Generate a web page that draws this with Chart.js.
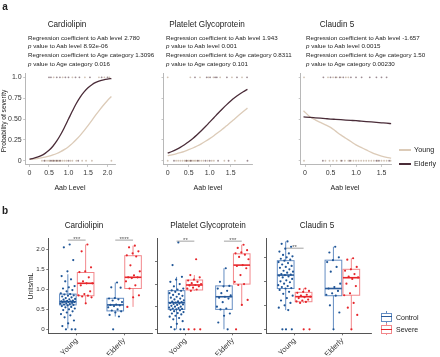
<!DOCTYPE html>
<html><head><meta charset="utf-8">
<script src="https://cdn.jsdelivr.net/npm/chart.js@4.4.1/dist/chart.umd.min.js"></script>
<style>
html,body{margin:0;padding:0;background:#fff;}
body{width:440px;height:357px;position:relative;overflow:hidden;font-family:"Liberation Sans",Arial,Helvetica,sans-serif;color:#222;}
canvas{position:absolute;left:0;top:0;}
.t{position:absolute;white-space:nowrap;line-height:1;}
.lg{position:absolute;}
</style></head>
<body>
<canvas id="a1" width="440" height="357"></canvas>
<canvas id="a2" width="440" height="357"></canvas>
<canvas id="a3" width="440" height="357"></canvas>
<canvas id="b1" width="440" height="357"></canvas>
<canvas id="b2" width="440" height="357"></canvas>
<canvas id="b3" width="440" height="357"></canvas>
<script>
// ================= DATA : panel a =================
const A_TITLES = ['Cardiolipin', 'Platelet Glycoprotein', 'Claudin 5'];
const A_XTITLES = ['Aab Level', 'Aab level', 'Aab level'];
const A_COEF_AAB = ['2.780', '1.943', '-1.657'];
const A_P_AAB = ['8.92e-06', '0.001', '0.0015'];
const A_COEF_AGE = ['1.3096', '0.8311', '1.50'];
const A_P_AGE = ['0.016', '0.101', '0.00230'];
const A_XTICKS = [[0, 0.5, 1, 1.5, 2], [0, 0.5, 1, 1.5], [0, 0.5, 1, 1.5]];
const A_XLABELS = [['0', '0.5', '1.0', '1.5', '2.0'], ['0', '0.5', '1.0', '1.5'], ['0', '0.5', '1.0', '1.5']];
const A_YTICKS = [0, 0.25, 0.5, 0.75, 1];
const A_YLABELS = ['0', '0.25', '0.50', '0.75', '1.0'];
const AGE_GROUPS = ['Young', 'Elderly'];

const CARD_X = [0, 0.1, 0.2, 0.3, 0.4, 0.5, 0.6, 0.7, 0.8, 0.9, 1.0, 1.1, 1.2, 1.3, 1.4, 1.5, 1.6, 1.7, 1.8, 1.9, 2.0, 2.1];
const CARD_YOUNG = [0.016, 0.020, 0.026, 0.033, 0.042, 0.054, 0.069, 0.087, 0.109, 0.136, 0.169, 0.208, 0.254, 0.305, 0.361, 0.422, 0.485, 0.549, 0.611, 0.669, 0.723, 0.771];
const CARD_ELDERLY = [0.020, 0.029, 0.042, 0.061, 0.088, 0.125, 0.174, 0.237, 0.314, 0.404, 0.500, 0.596, 0.686, 0.763, 0.826, 0.875, 0.912, 0.939, 0.958, 0.971, 0.980, 0.986];

const PLT_X = [0, 0.1, 0.2, 0.3, 0.4, 0.5, 0.6, 0.7, 0.8, 0.9, 1.0, 1.1, 1.2, 1.3, 1.4, 1.5, 1.6, 1.7, 1.8, 1.9];
const PLT_YOUNG = [0.060, 0.071, 0.083, 0.097, 0.113, 0.132, 0.153, 0.177, 0.203, 0.233, 0.265, 0.300, 0.338, 0.377, 0.419, 0.461, 0.505, 0.548, 0.590, 0.631];
const PLT_ELDERLY = [0.091, 0.111, 0.134, 0.160, 0.192, 0.227, 0.267, 0.311, 0.359, 0.410, 0.463, 0.516, 0.570, 0.621, 0.670, 0.716, 0.758, 0.795, 0.828, 0.856];

const CLD_X = [-0.03, 0.1, 0.2, 0.3, 0.4, 0.5, 0.6, 0.7, 0.8, 0.9, 1.0, 1.1, 1.2, 1.3, 1.4, 1.5, 1.6, 1.69];
const CLD_YOUNG = [0.60, 0.525, 0.49, 0.46, 0.43, 0.40, 0.355, 0.31, 0.27, 0.23, 0.19, 0.16, 0.13, 0.10, 0.075, 0.056, 0.04, 0.03];
const CLD_ELDERLY = [0.525, 0.52, 0.515, 0.51, 0.505, 0.50, 0.496, 0.492, 0.488, 0.484, 0.48, 0.475, 0.47, 0.465, 0.46, 0.455, 0.45, 0.445];

// rug observations (x = Aab level), severe at 1, non-severe at 0
const CARD_SEV_YOUNG_X = [0.62, 0.85, 1.1, 1.42, 1.78, 1.92, 2.05];
const CARD_SEV_ELD_X = [0.5, 0.55, 0.7, 0.78, 0.92, 1.0, 1.18, 1.28, 1.55, 1.85, 2.0];
const CARD_NON_YOUNG_X = [0.32, 0.4, 0.45, 0.5, 0.52, 0.58, 0.6, 0.65, 0.68, 0.72, 0.75, 0.8, 0.85, 0.9, 0.95, 1.05, 1.1, 1.2, 1.35, 1.45, 1.6, 2.1];
const CARD_NON_ELD_X = [0.38, 0.55, 0.62, 0.7, 0.78, 1.0, 1.25];
const PLT_SEV_YOUNG_X = [0, 0.54, 0.77, 0.97, 1.09, 1.25, 1.53, 1.77];
const PLT_SEV_ELD_X = [0.65, 0.93, 1.01, 1.13, 1.17, 1.41, 1.65, 1.89];
const PLT_NON_YOUNG_X = [0, 0.2, 0.25, 0.3, 0.35, 0.4, 0.43, 0.46, 0.5, 0.53, 0.56, 0.6, 0.63, 0.66, 0.7, 0.75, 0.8, 0.85, 0.95, 1.05, 1.1, 1.35, 1.6];
const PLT_NON_ELD_X = [0.15, 0.45, 0.55, 0.72, 0.9, 1.0, 1.2, 1.45, 1.9];
const CLD_SEV_YOUNG_X = [-0.02, 0.45, 0.55, 0.62, 0.7, 0.8, 0.85];
const CLD_SEV_ELD_X = [0.36, 0.5, 0.6, 0.68, 0.75, 0.9, 1.0, 1.11, 1.27, 1.4, 1.5, 1.6];
const CLD_NON_YOUNG_X = [-0.02, 0.4, 0.48, 0.55, 0.62, 0.7, 0.78, 0.85, 0.9, 0.95, 1.0, 1.05, 1.1, 1.15, 1.2, 1.25, 1.3, 1.35, 1.42, 1.5, 1.55, 1.6, 1.68];
const CLD_NON_ELD_X = [0.35, 0.72, 0.88, 1.4, 1.45, 1.65];

// ================= DATA : panel b =================
const B_TITLES = ['Cardiolipin', 'Platelet Glycoprotein', 'Claudin 5'];
const B_CATS = ['Young', 'Elderly'];
const B_GROUPS = ['Control', 'Severe'];
const B_YTICKS = [0, 0.5, 1, 1.5, 2];
const B_YLABELS = ['0', '0.5', '1.0', '1.5', '2.0'];
// box stats: [lower whisker, Q1, median, Q3, upper whisker]
const CARD_CTRL_YOUNG_BOX = [0.02, 0.61, 0.69, 0.88, 1.375];
const CARD_SEV_YOUNG_BOX = [0.65, 0.84, 1.15, 1.42, 2.12];
const CARD_CTRL_ELD_BOX = [0.32, 0.46, 0.61, 0.775, 1.17];
const CARD_SEV_ELD_BOX = [0.56, 1.02, 1.30, 1.84, 2.09];
const PLT_CTRL_YOUNG_BOX = [0, 0.44, 0.59, 0.855, 1.16];
const PLT_SEV_YOUNG_BOX = [0.85, 0.87, 0.98, 1.09, 1.2];
const PLT_CTRL_ELD_BOX = [0, 0.44, 0.72, 0.96, 1.35];
const PLT_SEV_ELD_BOX = [0.54, 1.0, 1.42, 1.67, 1.87];
const CLD_CTRL_YOUNG_BOX = [0.40, 0.85, 1.13, 1.43, 1.83];
const CLD_SEV_YOUNG_BOX = [0.55, 0.575, 0.68, 0.77, 0.85];
const CLD_CTRL_ELD_BOX = [0, 0.70, 0.85, 1.44, 1.72];
const CLD_SEV_ELD_BOX = [0, 0.71, 1.075, 1.25, 1.48];
// individual observations (Units/mL)
const CARD_CTRL_YOUNG = [2.12, 2.05, 1.73, 1.45, 1.33, 1.25, 1.2, 1.08, 1.05, 1.02, 0.98, 0.95, 0.9, 0.88, 0.87, 0.85, 0.84, 0.82, 0.8, 0.78, 0.76, 0.75, 0.74, 0.72, 0.71, 0.7, 0.7, 0.69, 0.68, 0.68, 0.67, 0.66, 0.65, 0.64, 0.63, 0.62, 0.61, 0.6, 0.58, 0.56, 0.55, 0.52, 0.5, 0.48, 0.45, 0.42, 0.38, 0.35, 0.3, 0.22, 0.15, 0.08, 0, 0, 0];
const CARD_SEV_YOUNG = [2.12, 1.95, 1.55, 1.45, 1.43, 1.3, 1.2, 1.15, 1.15, 1.1, 0.95, 0.88, 0.85, 0.84, 0.82, 0.8, 0.65];
const CARD_CTRL_ELD = [1.17, 1.05, 1.04, 0.78, 0.77, 0.75, 0.72, 0.68, 0.62, 0.61, 0.6, 0.58, 0.55, 0.5, 0.47, 0.45, 0.42, 0.36, 0.32, 0];
const CARD_SEV_ELD = [2.09, 2.05, 1.95, 1.9, 1.85, 1.82, 1.6, 1.45, 1.35, 1.3, 1.3, 1.28, 1.2, 1.1, 1.02, 0.85, 0.8, 0.56];
const PLT_CTRL_YOUNG = [1.92, 1.42, 1.16, 1.1, 1.05, 1.0, 0.95, 0.9, 0.88, 0.86, 0.85, 0.83, 0.8, 0.78, 0.76, 0.74, 0.72, 0.7, 0.68, 0.66, 0.64, 0.62, 0.61, 0.6, 0.59, 0.58, 0.57, 0.56, 0.55, 0.54, 0.52, 0.5, 0.5, 0.48, 0.47, 0.46, 0.45, 0.44, 0.43, 0.42, 0.4, 0.38, 0.36, 0.35, 0.33, 0.3, 0.28, 0.25, 0.22, 0.18, 0.12, 0.05, 0, 0, 0];
const PLT_SEV_YOUNG = [1.55, 1.2, 1.15, 1.1, 1.08, 1.05, 1.02, 1.0, 0.98, 0.97, 0.95, 0.92, 0.9, 0.88, 0.85, 0, 0, 0];
const PLT_CTRL_ELD = [1.35, 1.05, 0.96, 0.95, 0.9, 0.85, 0.8, 0.75, 0.72, 0.7, 0.68, 0.6, 0.5, 0.46, 0.44, 0.35, 0.3, 0.15, 0];
const PLT_SEV_ELD = [1.87, 1.8, 1.75, 1.7, 1.68, 1.65, 1.6, 1.55, 1.42, 1.4, 1.35, 1.2, 1.05, 1.0, 0.98, 0.65, 0.54, 0];
const CLD_CTRL_YOUNG = [1.83, 1.78, 1.72, 1.68, 1.62, 1.58, 1.55, 1.52, 1.5, 1.47, 1.45, 1.43, 1.4, 1.38, 1.35, 1.32, 1.3, 1.28, 1.25, 1.22, 1.2, 1.18, 1.15, 1.14, 1.13, 1.12, 1.1, 1.08, 1.05, 1.02, 1.0, 0.98, 0.95, 0.92, 0.9, 0.88, 0.86, 0.85, 0.82, 0.78, 0.74, 0.7, 0.65, 0.6, 0.55, 0.5, 0.45, 0.4, 0, 0, 0];
const CLD_SEV_YOUNG = [0.85, 0.84, 0.8, 0.78, 0.76, 0.72, 0.7, 0.68, 0.67, 0.65, 0.62, 0.6, 0.58, 0.57, 0.55, 0, 0];
const CLD_CTRL_ELD = [1.72, 1.6, 1.5, 1.44, 1.4, 1.3, 1.2, 0.95, 0.88, 0.85, 0.8, 0.75, 0.72, 0.7, 0.5, 0.35, 0];
const CLD_SEV_ELD = [1.48, 1.45, 1.3, 1.25, 1.22, 1.15, 1.1, 1.08, 1.05, 0.95, 0.9, 0.75, 0.71, 0.55, 0.45, 0.3, 0];
// significance labels and bar heights
const CARD_SIG = ['***', '****'];
const PLT_SIG = ['**', '***'];
const CLD_SIG = ['**', ''];
const CARD_SIG_Y = 2.23;
const PLT_SIG_Y = 1.95;
const CLD_SIG_Y = 1.69;

// ================= STYLE / LAYOUT =================
const W = 440, H = 357;
const FONT = '"Liberation Sans", Arial, sans-serif';
const ELD_COL = '#4a2c38', YNG_COL = '#dccbb8';
const CTRL_PT = '#1f5596', CTRL_BOX = 'rgba(74,122,184,0.85)', CTRL_MED = '#2a5b9b';
const SEV_PT = '#e6262b', SEV_BOX = 'rgba(240,115,120,0.85)', SEV_MED = '#e8262c';
const A_AXIS = '#b8b8b8', B_AXIS = '#555';
const CAT_POS = [1, 2], DODGE = 0.1875, BOX_W = 0.35, JIT = 0.16;

function frac(v) { return v - Math.floor(v); }
function xy(xs, ys) { return xs.map((x, i) => ({ x: x, y: ys[i] })); }
function rug(xs, level) { return xs.map(x => ({ x: x, y: level })); }
function jit(vals, center) { return vals.map((v, i) => ({ x: center + (frac((i + 1) * 0.6180339887) - 0.5) * 2 * JIT, y: v })); }

function mkScales(o) {
  return {
    x: {
      type: 'linear', min: o.xmin, max: o.xmax,
      afterBuildTicks: s => { s.ticks = o.xticks.map(v => ({ value: v })); },
      afterFit: s => { s.height = o.xh; s.paddingLeft = 0; s.paddingRight = 0; },
      ticks: { autoSkip: false, maxRotation: o.xrot || 0, minRotation: o.xrot || 0, padding: o.xpad, color: '#333',
        font: { family: FONT, size: o.xfs }, callback: (v, i) => o.xlabels[i] },
      grid: { drawOnChartArea: false, drawTicks: true, tickLength: 2, color: o.axis, lineWidth: 0.8 },
      border: { display: true, color: o.axis, width: 1 }
    },
    y: {
      type: 'linear', min: o.ymin, max: o.ymax,
      afterBuildTicks: s => { s.ticks = o.yticks.map(v => ({ value: v })); },
      afterFit: s => { s.width = o.yw; s.paddingTop = 0; s.paddingBottom = 0; },
      ticks: { autoSkip: false, padding: 1.5, color: '#333', font: { family: FONT, size: o.yfs },
        callback: (v, i) => (o.ylabels ? o.ylabels[i] : '') },
      grid: { drawOnChartArea: false, drawTicks: true, tickLength: 2, color: o.axis, lineWidth: 0.8 },
      border: { display: true, color: o.axis, width: 1 }
    }
  };
}
function pad(a, yw, xh) { return { left: a.l - yw, top: a.t, right: W - a.r, bottom: H - a.b - xh }; }

// ---------- panel a charts ----------
function aChart(id, area, xr, idx, X, Y_Y, Y_E, sy, se, ny, ne, ylabels) {
  const rugPt = (data, col) => ({ type: 'scatter', data: data, pointRadius: 0.9, pointBorderWidth: 0, backgroundColor: col, borderColor: col });
  const yw = Math.min(area.l - 1, 24), xh = 16;
  return new Chart(document.getElementById(id), {
    type: 'scatter',
    data: { datasets: [
      { type: 'line', label: AGE_GROUPS[1], data: xy(X, Y_E), borderColor: ELD_COL, borderWidth: 1.3, pointRadius: 0, cubicInterpolationMode: 'monotone', fill: false },
      { type: 'line', label: AGE_GROUPS[0], data: xy(X, Y_Y), borderColor: YNG_COL, borderWidth: 1.3, pointRadius: 0, cubicInterpolationMode: 'monotone', fill: false },
      rugPt(rug(se, 1), 'rgba(74,44,56,0.55)'),
      rugPt(rug(sy, 1), 'rgba(190,170,150,0.7)'),
      rugPt(rug(ne, 0), 'rgba(74,44,56,0.55)'),
      rugPt(rug(ny, 0), 'rgba(190,170,150,0.7)')
    ] },
    options: {
      responsive: false, animation: false, devicePixelRatio: 1,
      layout: { padding: pad(area, yw, xh) },
      plugins: { legend: { display: false }, tooltip: { enabled: false } },
      scales: mkScales({ xmin: xr[0], xmax: xr[1], xticks: A_XTICKS[idx], xlabels: A_XLABELS[idx], xpad: 2, xfs: 7, xh: xh, yw: yw,
        ymin: -0.05, ymax: 1.05, yticks: A_YTICKS, ylabels: ylabels, yfs: 7, axis: A_AXIS })
    }
  });
}
aChart('a1', { l: 25.2, r: 115.3, t: 73.2, b: 164.9 }, [-0.11, 2.2], 0, CARD_X, CARD_YOUNG, CARD_ELDERLY, CARD_SEV_YOUNG_X, CARD_SEV_ELD_X, CARD_NON_YOUNG_X, CARD_NON_ELD_X, A_YLABELS);
aChart('a2', { l: 163.5, r: 252.5, t: 73.2, b: 164.9 }, [-0.1, 2.02], 1, PLT_X, PLT_YOUNG, PLT_ELDERLY, PLT_SEV_YOUNG_X, PLT_SEV_ELD_X, PLT_NON_YOUNG_X, PLT_NON_ELD_X, null);
aChart('a3', { l: 300.7, r: 391.7, t: 73.2, b: 164.9 }, [-0.085, 1.7], 2, CLD_X, CLD_YOUNG, CLD_ELDERLY, CLD_SEV_YOUNG_X, CLD_SEV_ELD_X, CLD_NON_YOUNG_X, CLD_NON_ELD_X, null);

// ---------- panel b charts ----------
function boxPlugin(groups, sig, sigY) {
  return {
    id: 'boxes',
    beforeDatasetsDraw(chart) {
      const ctx = chart.ctx, x = chart.scales.x, y = chart.scales.y;
      const ppu = x.getPixelForValue(1) - x.getPixelForValue(0);
      const hw = BOX_W * ppu / 2;
      ctx.save();
      groups.forEach(g => {
        g.boxes.forEach((b, i) => {
          const cx = x.getPixelForValue(CAT_POS[i] + g.offset);
          const p = b.map(v => y.getPixelForValue(v));
          ctx.strokeStyle = g.stroke; ctx.lineWidth = 1;
          ctx.beginPath();
          ctx.moveTo(cx, p[0]); ctx.lineTo(cx, p[1]);
          ctx.moveTo(cx, p[3]); ctx.lineTo(cx, p[4]);
          ctx.stroke();
          ctx.strokeRect(cx - hw, p[3], 2 * hw, p[1] - p[3]);
          ctx.strokeStyle = g.med; ctx.lineWidth = 1.6;
          ctx.beginPath(); ctx.moveTo(cx - hw, p[2]); ctx.lineTo(cx + hw, p[2]); ctx.stroke();
        });
      });
      ctx.strokeStyle = '#8a8a8a'; ctx.lineWidth = 0.8;
      sig.forEach((s, i) => {
        if (!s) return;
        const yy = y.getPixelForValue(sigY);
        ctx.beginPath();
        ctx.moveTo(x.getPixelForValue(CAT_POS[i] - DODGE), yy);
        ctx.lineTo(x.getPixelForValue(CAT_POS[i] + DODGE), yy);
        ctx.stroke();
      });
      ctx.restore();
    }
  };
}
function bChart(id, area, yr, ylabels, ctrl, sev, ctrlBoxes, sevBoxes, sig, sigY) {
  const yw = 14, xh = 22;
  const ch = new Chart(document.getElementById(id), {
    type: 'scatter',
    data: { datasets: [
      { label: B_GROUPS[1], data: jit(sev[0], CAT_POS[0] + DODGE).concat(jit(sev[1], CAT_POS[1] + DODGE)), pointRadius: 1.1, pointBorderWidth: 0, backgroundColor: SEV_PT },
      { label: B_GROUPS[0], data: jit(ctrl[0], CAT_POS[0] - DODGE).concat(jit(ctrl[1], CAT_POS[1] - DODGE)), pointRadius: 1.1, pointBorderWidth: 0, backgroundColor: CTRL_PT }
    ] },
    options: {
      responsive: false, animation: false, devicePixelRatio: 1,
      layout: { padding: pad(area, yw, xh) },
      plugins: { legend: { display: false }, tooltip: { enabled: false } },
      scales: mkScales({ xmin: 0.4, xmax: 2.6, xticks: CAT_POS, xlabels: B_CATS, xpad: 1, xfs: 7.5, xrot: 45, xh: xh, yw: yw,
        ymin: yr[0], ymax: yr[1], yticks: ylabels ? B_YTICKS : [0, 0.5, 1, 1.5], ylabels: ylabels, yfs: 6.2, axis: B_AXIS })
    },
    plugins: [boxPlugin([
      { boxes: ctrlBoxes, offset: -DODGE, stroke: CTRL_BOX, med: CTRL_MED },
      { boxes: sevBoxes, offset: DODGE, stroke: SEV_BOX, med: SEV_MED }
    ], sig, sigY)]
  });
  sig.forEach((s, i) => {
    if (!s) return;
    txt(s, ch.scales.x.getPixelForValue(CAT_POS[i]), ch.scales.y.getPixelForValue(sigY) - 1.5, 6, { color: '#555' });
  });
  return ch;
}

// ---------- text helper ----------
function txt(s, x, y, size, o) {
  o = o || {};
  const d = document.createElement('div');
  d.className = 't';
  if (o.html) d.innerHTML = s; else d.textContent = s;
  d.style.left = x + 'px'; d.style.top = y + 'px'; d.style.fontSize = size + 'px';
  if (o.bold) d.style.fontWeight = 'bold';
  d.style.color = o.color || '#222';
  const ax = o.align === 'left' ? '0' : '-50%';
  d.style.transform = 'translate(' + ax + ',-50%)' + (o.rot ? ' rotate(' + o.rot + 'deg)' : '');
  document.body.appendChild(d);
  return d;
}

bChart('b1', { l: 48.3, r: 152.6, t: 238.3, b: 333.3 }, [-0.1, 2.275], B_YLABELS,
  [CARD_CTRL_YOUNG, CARD_CTRL_ELD], [CARD_SEV_YOUNG, CARD_SEV_ELD],
  [CARD_CTRL_YOUNG_BOX, CARD_CTRL_ELD_BOX], [CARD_SEV_YOUNG_BOX, CARD_SEV_ELD_BOX], CARD_SIG, CARD_SIG_Y);
bChart('b2', { l: 157, r: 261.3, t: 238.3, b: 333.3 }, [-0.0885, 2.013], null,
  [PLT_CTRL_YOUNG, PLT_CTRL_ELD], [PLT_SEV_YOUNG, PLT_SEV_ELD],
  [PLT_CTRL_YOUNG_BOX, PLT_CTRL_ELD_BOX], [PLT_SEV_YOUNG_BOX, PLT_SEV_ELD_BOX], PLT_SIG, PLT_SIG_Y);
bChart('b3', { l: 266, r: 371, t: 238.3, b: 333.3 }, [-0.083, 1.896], null,
  [CLD_CTRL_YOUNG, CLD_CTRL_ELD], [CLD_SEV_YOUNG, CLD_SEV_ELD],
  [CLD_CTRL_YOUNG_BOX, CLD_CTRL_ELD_BOX], [CLD_SEV_YOUNG_BOX, CLD_SEV_ELD_BOX], CLD_SIG, CLD_SIG_Y);

// ---------- annotations ----------
txt('a', 5, 7, 10, { bold: true });
txt('b', 5, 211, 10, { bold: true });
const A_TITLE_X = [67, 207, 337], A_TEXT_X = [28, 166, 306], A_XT_X = [70, 208, 345];
const A_LINE_Y = [37.5, 46, 55, 63.5];
A_TITLES.forEach((t, i) => {
  txt(t, A_TITLE_X[i], 25, 8.2);
  txt('Regression coefficient to Aab level ' + A_COEF_AAB[i], A_TEXT_X[i], A_LINE_Y[0], 6.2, { align: 'left' });
  txt('<i>p</i> value to Aab level ' + A_P_AAB[i], A_TEXT_X[i], A_LINE_Y[1], 6.2, { align: 'left', html: true });
  txt('Regression coefficient to Age category ' + A_COEF_AGE[i], A_TEXT_X[i], A_LINE_Y[2], 6.2, { align: 'left' });
  txt('<i>p</i> value to Age category ' + A_P_AGE[i], A_TEXT_X[i], A_LINE_Y[3], 6.2, { align: 'left', html: true });
  txt(A_XTITLES[i], A_XT_X[i], 187, 7);
});
txt('Probability of severity', 3.5, 121, 6.6, { rot: -90 });
function lgLine(x, y, w, col, th) {
  const d = document.createElement('div'); d.className = 'lg';
  d.style.left = x + 'px'; d.style.top = (y - th / 2) + 'px'; d.style.width = w + 'px'; d.style.height = th + 'px'; d.style.background = col;
  document.body.appendChild(d);
}
lgLine(399, 150, 12, YNG_COL, 1.6); txt(AGE_GROUPS[0], 414, 150, 7.2, { align: 'left' });
lgLine(399, 164, 12, ELD_COL, 1.6); txt(AGE_GROUPS[1], 414, 164, 7.2, { align: 'left' });

const B_TITLE_X = [84, 208, 317];
B_TITLES.forEach((t, i) => txt(t, B_TITLE_X[i], 225.5, 8.2));
txt('Units/mL', 31, 286, 6.8, { rot: -90 });
function lgBox(x, y, stroke, med) {
  const v = document.createElement('div'); v.className = 'lg';
  v.style.left = (x + 5) + 'px'; v.style.top = (y - 6) + 'px'; v.style.width = '0.8px'; v.style.height = '12px'; v.style.background = stroke;
  document.body.appendChild(v);
  const b = document.createElement('div'); b.className = 'lg';
  b.style.left = x + 'px'; b.style.top = (y - 4) + 'px'; b.style.width = '9px'; b.style.height = '7px';
  b.style.border = '1px solid ' + stroke; b.style.background = '#fff';
  document.body.appendChild(b);
  const m = document.createElement('div'); m.className = 'lg';
  m.style.left = x + 'px'; m.style.top = (y - 0.5) + 'px'; m.style.width = '11px'; m.style.height = '1.2px'; m.style.background = med;
  document.body.appendChild(m);
}
lgBox(381, 316.7, CTRL_BOX, CTRL_MED); txt(B_GROUPS[0], 396, 316.7, 7, { align: 'left' });
lgBox(381, 329.3, SEV_BOX, SEV_MED); txt(B_GROUPS[1], 396, 329.3, 7, { align: 'left' });
</script>
</body></html>
